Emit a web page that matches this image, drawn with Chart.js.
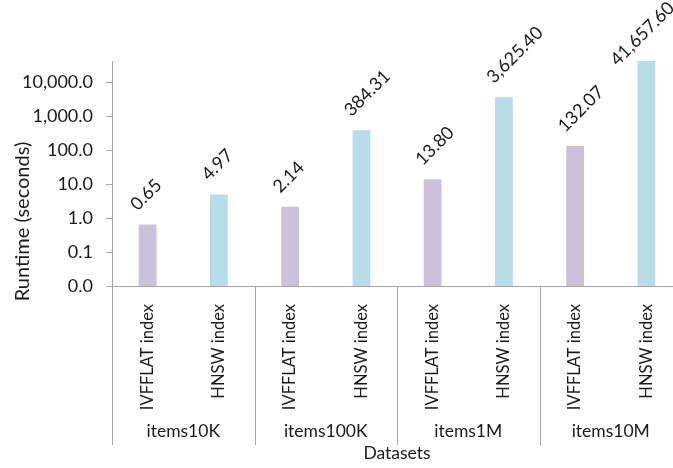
<!DOCTYPE html>
<html>
<head>
<meta charset="utf-8">
<script src="https://cdn.jsdelivr.net/npm/chart.js@4"></script>
<style>
html, body { margin: 0; padding: 0; background: #fff; overflow: hidden; }
#wrap { width: 690px; height: 468px; }
</style>
</head>
<body>
<div id="wrap"><canvas id="chart" width="690" height="468"></canvas></div>
<script>
// data
var groups = ['items10K', 'items100K', 'items1M', 'items10M'];
var indexTypes = ['IVFFLAT index', 'HNSW index'];
var ivfflat = [0.65, 2.14, 13.80, 132.07];
var hnsw = [4.97, 384.31, 3625.40, 41657.60];
var yTicks = [0.01, 0.1, 1, 10, 100, 1000, 10000];

var colors = ['#ccc1da', '#b7dee8'];
var axisColor = '#a6a6a6';
var textColor = '#1a1a1a';
var family = 'Lato';

var labels = [];
var values = [];
var barColors = [];
groups.forEach(function(g, i){
    labels.push(indexTypes[0]);
    values.push(ivfflat[i]);
    barColors.push(colors[0]);
    labels.push(indexTypes[1]);
    values.push(hnsw[i]);
    barColors.push(colors[1]);
});

function fmt(v, d){
    return v.toLocaleString('en-US', {minimumFractionDigits: d, maximumFractionDigits: d});
}

// value labels on bars, group separators / group names under the axis, y title
var extras = {
    id: 'extras',
    afterDatasetsDraw: function(chart){
        var ctx = chart.ctx;
        var meta = chart.getDatasetMeta(0);
        var k = Math.SQRT1_2;
        ctx.save();
        ctx.font = '18px ' + family;
        ctx.fillStyle = textColor;
        ctx.textAlign = 'left';
        ctx.textBaseline = 'alphabetic';
        meta.data.forEach(function(bar, i){
            var txt = fmt(values[i], 2);
            var x = bar.x - 10;
            var y = bar.y - 13;
            // keep the label inside the top edge, like the spreadsheet does
            var rise = (ctx.measureText(txt).width + 13) * k;
            if(y - rise < 0){
                var shift = rise - y;
                y += shift;
                x -= shift;
            }
            ctx.save();
            ctx.translate(x, y);
            ctx.rotate(-Math.PI / 4);
            ctx.fillText(txt, 0, 0);
            ctx.restore();
        });
        ctx.restore();
    },
    afterDraw: function(chart){
        var ctx = chart.ctx;
        var area = chart.chartArea;
        var n = groups.length;
        var w = (area.right - area.left) / n;
        ctx.save();
        ctx.strokeStyle = axisColor;
        ctx.lineWidth = 1;
        for(var i = 0; i <= n; i++){
            var x = Math.round(area.left + i * w) + 0.5;
            ctx.beginPath();
            ctx.moveTo(x, area.bottom);
            ctx.lineTo(x, area.bottom + 159);
            ctx.stroke();
        }
        ctx.font = '17.5px ' + family;
        ctx.fillStyle = textColor;
        ctx.textAlign = 'center';
        ctx.textBaseline = 'middle';
        for(var j = 0; j < n; j++){
            ctx.fillText(groups[j], area.left + (j + 0.5) * w, area.bottom + 145);
        }
        // y axis title sits lower than the plot centre in the original
        ctx.font = '20px ' + family;
        ctx.translate(23, (area.top + area.bottom) / 2 + 48);
        ctx.rotate(-Math.PI / 2);
        ctx.fillText('Runtime (seconds)', 0, 0);
        ctx.restore();
    }
};

new Chart(document.getElementById('chart'), {
    type: 'bar',
    data: {
        labels: labels,
        datasets: [{
            data: values,
            backgroundColor: barColors,
            categoryPercentage: 1,
            barPercentage: 0.25
        }]
    },
    plugins: [extras],
    options: {
        responsive: false,
        animation: false,
        layout: { padding: { top: 61, right: 8, left: 0, bottom: 0 } },
        plugins: {
            legend: { display: false },
            tooltip: { enabled: false }
        },
        scales: {
            x: {
                grid: { display: false },
                border: { display: true, color: axisColor },
                ticks: {
                    autoSkip: false,
                    minRotation: 90,
                    maxRotation: 90,
                    padding: 10,
                    color: textColor,
                    font: { family: family, size: 16.5 }
                },
                title: {
                    display: true,
                    text: 'Datasets',
                    color: textColor,
                    font: { family: family, size: 17.5 },
                    padding: { top: 0, bottom: 4 }
                },
                afterFit: function(s){ s.height = 182; }
            },
            y: {
                type: 'logarithmic',
                min: 0.01,
                max: 42000,
                grid: { drawOnChartArea: false, drawTicks: true, tickLength: 6, color: axisColor },
                border: { display: true, color: axisColor },
                afterBuildTicks: function(s){
                    s.ticks = yTicks.map(function(v){ return { value: v }; });
                },
                ticks: {
                    padding: 13,
                    color: textColor,
                    font: { family: family, size: 18 },
                    callback: function(v){ return fmt(v, 1); }
                },
                afterFit: function(s){ s.width = 112; }
            }
        }
    }
});
</script>
</body>
</html>
